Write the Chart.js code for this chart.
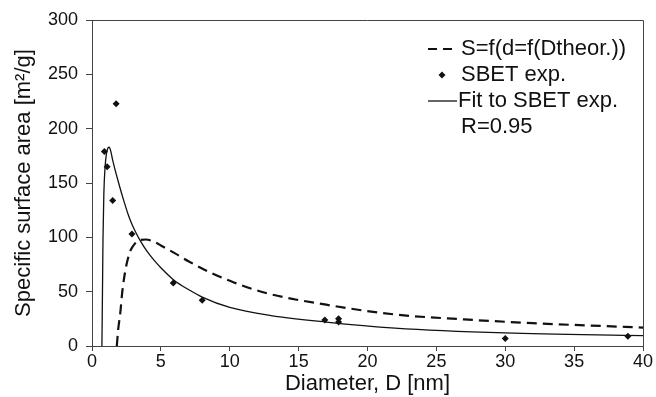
<!DOCTYPE html>
<html>
<head>
<meta charset="utf-8">
<script src="https://cdn.jsdelivr.net/npm/chart.js@4/dist/chart.umd.min.js"></script>
<style>
  html, body { margin: 0; padding: 0; background: #fff; }
  #wrap { width: 656px; height: 397px; }
</style>
</head>
<body>
<div id="wrap"><canvas id="chart"></canvas></div>
<script>
  // Theoretical curve S=f(d=f(Dtheor.))
  const theorX = [1.8, 1.9, 2.05, 2.2, 2.4, 2.6, 2.8, 3.1, 3.5, 3.9, 4.5, 5, 6, 7, 8.6, 10.3, 12.7, 17, 22, 27, 32, 40];
  const theorY = [0, 15, 30, 50, 68, 80, 88, 94, 97.5, 98, 96, 92.5, 85.5, 78, 67.5, 58.5, 48.5, 38, 29, 24.5, 21, 17];

  // Experimental SBET points
  const sbetX = [0.9, 1.1, 1.5, 1.75, 2.9, 5.9, 8.0, 16.9, 17.9, 17.9, 30, 38.9];
  const sbetY = [179, 165, 134, 223, 103, 58, 42, 24, 25, 22, 7, 9];

  // Fit to SBET exp.
  const fitX = [0.72, 0.76, 0.8, 0.86, 0.95, 1.05, 1.15, 1.25, 1.35, 1.5, 1.7, 2, 2.3, 2.6, 2.9, 3.2, 3.5, 4, 4.5, 5, 6, 7, 8, 10, 13, 17, 22, 30, 40];
  const fitY = [0, 50, 100, 140, 165, 177, 182, 183, 180, 171, 161, 147, 134, 122, 112, 104, 97, 87, 79, 72, 60, 52, 45, 35.5, 28, 22, 16.5, 12, 9.5];

  const xTicks = [0, 5, 10, 15, 20, 25, 30, 35, 40];
  const yTicks = [0, 50, 100, 150, 200, 250, 300];
  const legendLabels = ['S=f(d=f(Dtheor.))', 'SBET exp.', 'Fit to SBET exp.', 'R=0.95'];

  const toPoints = (xs, ys) => xs.map((x, i) => ({ x: x, y: ys[i] }));
  const FONT = 'Liberation Sans, Arial, sans-serif';

  // frame round the plot + legend inside the chart area
  const framePlugin = {
    id: 'frame',
    afterDraw(chart) {
      const ctx = chart.ctx;
      const a = chart.chartArea;
      ctx.save();
      ctx.strokeStyle = '#444';
      ctx.lineWidth = 1;
      ctx.beginPath();
      ctx.moveTo(a.left, a.top + 0.5);
      ctx.lineTo(a.right + 0.5, a.top + 0.5);
      ctx.lineTo(a.right + 0.5, a.bottom);
      ctx.stroke();

      // legend
      const tx = 461;
      const rows = [49, 75, 101, 127];
      ctx.fillStyle = '#111';
      ctx.strokeStyle = '#111';
      ctx.font = '22px ' + FONT;
      ctx.textBaseline = 'middle';
      rows.forEach((y, i) => ctx.fillText(legendLabels[i], i === 2 ? 458 : tx, y));

      // dashed sample
      ctx.lineWidth = 2.2;
      ctx.setLineDash([9, 6]);
      ctx.beginPath();
      ctx.moveTo(428, rows[0]);
      ctx.lineTo(453, rows[0]);
      ctx.stroke();
      ctx.setLineDash([]);

      // diamond sample
      ctx.beginPath();
      ctx.moveTo(442, rows[1] - 3.5);
      ctx.lineTo(445.5, rows[1]);
      ctx.lineTo(442, rows[1] + 3.5);
      ctx.lineTo(438.5, rows[1]);
      ctx.closePath();
      ctx.fill();

      // solid sample
      ctx.lineWidth = 1.3;
      ctx.beginPath();
      ctx.moveTo(428, rows[2]);
      ctx.lineTo(457, rows[2]);
      ctx.stroke();
      ctx.restore();
    }
  };

  new Chart(document.getElementById('chart'), {
    type: 'scatter',
    data: {
      datasets: [
        {
          label: legendLabels[0],
          data: toPoints(theorX, theorY),
          showLine: true,
          borderColor: '#111',
          borderWidth: 2.2,
          borderDash: [10, 6],
          pointRadius: 0,
          cubicInterpolationMode: 'monotone'
        },
        {
          label: legendLabels[1],
          data: toPoints(sbetX, sbetY),
          showLine: false,
          pointStyle: 'rectRot',
          pointRadius: 3.5,
          backgroundColor: '#111',
          borderColor: '#111',
          borderWidth: 0
        },
        {
          label: legendLabels[2],
          data: toPoints(fitX, fitY),
          showLine: true,
          borderColor: '#111',
          borderWidth: 1.3,
          pointRadius: 0,
          cubicInterpolationMode: 'monotone'
        }
      ]
    },
    options: {
      responsive: true,
      maintainAspectRatio: false,
      animation: false,
      layout: { padding: { top: 20, right: 13, left: 0, bottom: 0 } },
      plugins: {
        legend: { display: false },
        tooltip: { enabled: false }
      },
      scales: {
        x: {
          type: 'linear',
          min: 0,
          max: 40,
          afterBuildTicks: s => { s.ticks = xTicks.map(v => ({ value: v })); },
          afterFit: s => { s.height = 51; },
          grid: { drawOnChartArea: false, tickLength: 5, color: '#444' },
          border: { color: '#444', width: 1 },
          ticks: { color: '#111', font: { size: 18, family: FONT }, padding: 0, maxRotation: 0 },
          title: {
            display: true,
            text: 'Diameter, D [nm]',
            color: '#111',
            font: { size: 22, family: FONT },
            padding: { top: 0, bottom: 0 }
          }
        },
        y: {
          min: 0,
          max: 300,
          afterBuildTicks: s => { s.ticks = yTicks.map(v => ({ value: v })); },
          afterFit: s => { s.width = 92; },
          grid: { drawOnChartArea: false, tickLength: 6, color: '#444' },
          border: { color: '#444', width: 1 },
          ticks: { color: '#111', font: { size: 18, family: FONT }, padding: 8 },
          title: {
            display: true,
            text: 'Specific surface area [m²/g]',
            color: '#111',
            font: { size: 22, family: FONT },
            padding: { top: 11, bottom: 0 }
          }
        }
      }
    },
    plugins: [framePlugin]
  });
</script>
</body>
</html>
